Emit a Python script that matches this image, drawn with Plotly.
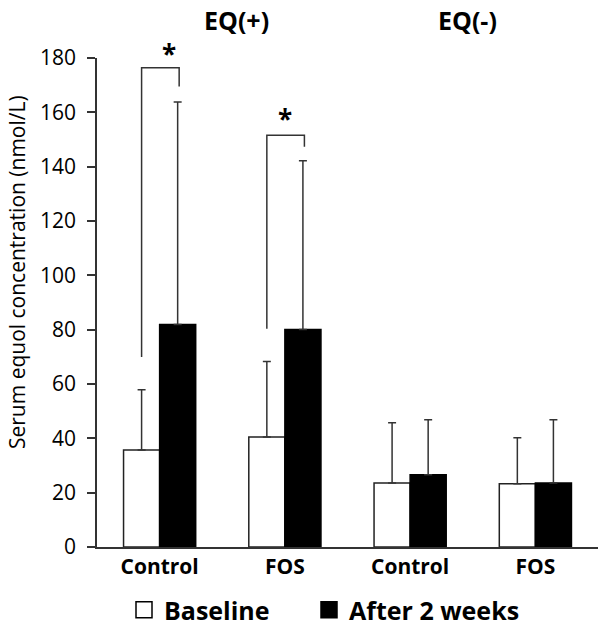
import plotly.graph_objects as go

# ---- data ----
groups = ["EQ(+)", "EQ(-)"]
categories = ["EQ(+) Control", "EQ(+) FOS", "EQ(-) Control", "EQ(-) FOS"]
tick_labels = ["Control", "FOS", "Control", "FOS"]
baseline_mean = [35.7, 40.5, 23.6, 23.3]
baseline_sd = [22.2, 27.8, 22.1, 16.9]
after_mean = [81.9, 80.1, 26.6, 23.6]
after_sd = [81.9, 62.1, 20.2, 23.2]
# significance brackets: (category index, left bottom, top, right bottom, label, label height)
brackets = [(0, 69.9, 176.4, 169.5, "*", 181.5), (1, 80.3, 151.6, 147.3, "*", 157.5)]
y_ticks = [0, 20, 40, 60, 80, 100, 120, 140, 160, 180]
Y_MAX = 180

FONT = "Open Sans"
LINE = "#333333"

fig = go.Figure()
fig.add_trace(go.Bar(
    x=categories, y=baseline_mean, name="Baseline", showlegend=False,
    marker=dict(color="white", line=dict(color="#222222", width=1.5)),
    error_y=dict(type="data", array=baseline_sd, arrayminus=[0] * 4, symmetric=False,
                 color=LINE, thickness=1.5, width=4),
))
fig.add_trace(go.Bar(
    x=categories, y=after_mean, name="After 2 weeks", showlegend=False,
    marker=dict(color="black", line=dict(color="black", width=1.5)),
    error_y=dict(type="data", array=after_sd, arrayminus=[0] * 4, symmetric=False,
                 color=LINE, thickness=1.5, width=4),
))
# legend entries with larger squares
fig.add_trace(go.Scatter(
    x=[None], y=[None], mode="markers", name="Baseline", legend="legend",
    marker=dict(symbol="square", size=18, color="white", line=dict(color="black", width=1.5)),
))
fig.add_trace(go.Scatter(
    x=[None], y=[None], mode="markers", name="After 2 weeks", legend="legend2",
    marker=dict(symbol="square", size=18, color="black", line=dict(color="black", width=1.5)),
))

half = (1 - 0.424) / 4  # offset from category center to each bar center
for idx, yl, yt, yr, lab, ylab in brackets:
    xl = idx - half
    xr = idx + half + 0.012
    fig.add_shape(type="path", xref="x", yref="y",
                  path=f"M {xl},{yl} L {xl},{yt} L {xr},{yt} L {xr},{yr}",
                  line=dict(color=LINE, width=1.5))
    fig.add_annotation(x=idx + (0.075 if idx == 0 else 0.0), y=ylab / Y_MAX,
                       xref="x", yref="y domain",
                       text=lab, showarrow=False, yanchor="middle",
                       font=dict(family=FONT, size=26, color="black", weight="bold"))

for gi, g in enumerate(groups):
    fig.add_annotation(x=0.278 if gi == 0 else 0.74, y=1 + 57.5 / 489.5,
                       xref="paper", yref="paper",
                       text=g, showarrow=False, xanchor="center", yanchor="top",
                       font=dict(family=FONT, size=25, color="black", weight="bold"))

# y-axis title (placed as rotated annotation to match its off-centre position)
fig.add_annotation(x=-0.16, y=0.562, xref="paper", yref="paper",
                   text="Serum equol concentration (nmol/L)", textangle=-90,
                   showarrow=False, xanchor="center", yanchor="middle",
                   font=dict(family=FONT, size=21, color="black"))

legend_style = dict(orientation="h", xref="container", xanchor="left",
                    yref="container", y=18 / 628, yanchor="middle",
                    font=dict(family=FONT, size=25, color="black", weight="bold"),
                    itemsizing="trace", bgcolor="rgba(0,0,0,0)")

fig.update_layout(
    width=600, height=628,
    margin=dict(l=97, r=2, t=57.5, b=81),
    plot_bgcolor="white", paper_bgcolor="white",
    barmode="group", bargap=0.424, bargroupgap=0,
    font=dict(family=FONT, color="black"),
    showlegend=True,
    legend=dict(x=124 / 600, **legend_style),
    legend2=dict(x=309 / 600, **legend_style),
    xaxis=dict(tickmode="array", tickvals=categories, ticktext=tick_labels,
               showline=True, linecolor=LINE, linewidth=1.5, ticks="", showgrid=False,
               tickfont=dict(family=FONT, size=21, color="black", weight="bold"),
               range=[-0.5, 3.5], fixedrange=True),
    yaxis=dict(range=[0, Y_MAX], tickvals=y_ticks, showline=True, linecolor=LINE, linewidth=1.5,
               ticks="outside", ticklen=8, tickwidth=1.5, tickcolor=LINE, showgrid=False,
               zeroline=False, ticklabelstandoff=7,
               tickfont=dict(family=FONT, size=21, color="black")),
)

fig.write_html("out.html", config={"displayModeBar": False},
               post_script="document.body.style.margin='0';document.body.style.overflow='hidden';")
